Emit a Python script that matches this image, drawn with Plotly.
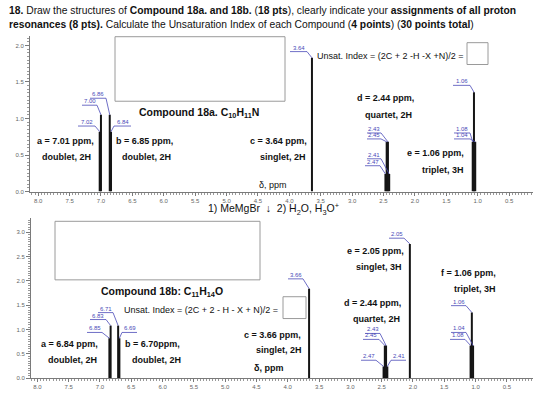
import plotly.graph_objects as go

W, H = 560, 394
FONT = "Liberation Sans, Arial, sans-serif"

# ---------------- data ----------------
top_ppm = [7.02, 7.00, 6.86, 6.84, 3.64, 2.47, 2.45, 2.43, 2.41, 1.08, 1.06, 1.04]
top_int = [0.82, 1.05, 1.05, 0.82, 1.83, 0.24, 0.68, 0.68, 0.24, 0.68, 1.36, 0.68]

bot_ppm = [6.85, 6.83, 6.71, 6.69, 3.66, 2.47, 2.45, 2.43, 2.41, 2.05, 1.08, 1.06, 1.04]
bot_int = [0.82, 1.08, 1.08, 0.82, 1.84, 0.24, 0.67, 0.67, 0.24, 2.76, 0.67, 1.35, 0.67]

x_tickvals = [8.0, 7.5, 7.0, 6.5, 6.0, 5.5, 5.0, 4.5, 4.0, 3.5, 3.0, 2.5, 2.0, 1.5, 1.0, 0.5]
top_yticks = [0.0, 0.5, 1.0, 1.5, 2.0]
bot_yticks = [0.0, 0.5, 1.0, 1.5, 2.0, 2.5, 3.0]

top_assign = ["a = 7.01 ppm,", "doublet, 2H", "b = 6.85 ppm,", "doublet, 2H",
              "c = 3.64 ppm,", "singlet, 2H", "d = 2.44 ppm,", "quartet, 2H",
              "e = 1.06 ppm,", "triplet, 3H"]
bot_assign = ["a = 6.84 ppm,", "doublet, 2H", "b = 6.70ppm,", "doublet, 2H",
              "c = 3.66 ppm,", "singlet, 2H", "d = 2.44 ppm,", "quartet, 2H",
              "e = 2.05 ppm,", "singlet, 3H", "f = 1.06 ppm,", "triplet, 3H"]

# ---------------- panel geometry (pixels) ----------------
TOP = dict(x0=30, x1=533, y0=36, y1=193, xr=(8.13, 0.12), yr=(0.0, 2.133))
BOT = dict(x0=31, x1=533, y0=220, y1=381, xr=(8.102, 0.083), yr=(0.0, 3.286))


def px2x(p, px):
    return p["xr"][0] + (px - p["x0"]) / (p["x1"] - p["x0"]) * (p["xr"][1] - p["xr"][0])


def py2y(p, py):
    return p["yr"][0] + (p["y1"] - py) / (p["y1"] - p["y0"]) * (p["yr"][1] - p["yr"][0])


def PX(x):
    return x / W


def PY(y):
    return 1 - y / H


fig = go.Figure()


def sticks(ppm, inten):
    xs, ys = [], []
    for p, h in zip(ppm, inten):
        xs += [p, p, None]
        ys += [0, h, None]
    return xs, ys


xs, ys = sticks(top_ppm, top_int)
fig.add_trace(go.Scatter(x=xs, y=ys, mode="lines", line=dict(color="#151515", width=2),
                         xaxis="x", yaxis="y", showlegend=False, hoverinfo="skip"))
xs, ys = sticks(bot_ppm, bot_int)
fig.add_trace(go.Scatter(x=xs, y=ys, mode="lines", line=dict(color="#151515", width=2),
                         xaxis="x2", yaxis="y2", showlegend=False, hoverinfo="skip"))

shapes = []
annots = []

LEADC = "#4a4ab8"

# peak-label leaders: (ppm, underline y px, far end x px, near end x px)
top_leaders = [
    (7.00, 106, 82, 97), (7.02, 127, 78, 95), (6.86, 99, 90, 106), (6.84, 127, 131, 114),
    (3.64, 52, 290, 307),
    (2.43, 134, 367, 381), (2.45, 140, 367, 381), (2.41, 160, 367, 381), (2.47, 167, 365, 380),
    (1.06, 86, 453, 470), (1.08, 134, 454, 470), (1.04, 140, 454, 470),
]
bot_leaders = [
    (6.71, 315, 98, 113), (6.83, 322, 90, 106), (6.85, 335, 87, 102), (6.69, 335, 137, 122),
    (3.66, 281, 288, 303), (2.05, 240, 389, 404),
    (2.43, 336, 365, 380), (2.45, 342, 363, 379), (2.47, 363, 361, 376), (2.41, 363, 406, 391),
    (1.06, 308, 451, 466), (1.04, 335, 451, 466), (1.08, 342, 450, 465),
]


def add_leaders(panel, leaders, ppm, inten, xref, yref):
    hmap = dict(zip(ppm, inten))
    for p, uy, xa, xb in leaders:
        h = hmap[p]
        xa_d, xb_d, uy_d = px2x(panel, xa), px2x(panel, xb), py2y(panel, uy)
        shapes.append(dict(type="path", xref=xref, yref=yref,
                           path=f"M {xa_d},{uy_d} L {xb_d},{uy_d} L {p},{h}",
                           line=dict(color=LEADC, width=0.8)))
        annots.append(dict(x=(xa_d + xb_d) / 2, y=uy_d, xref=xref, yref=yref,
                           text=f"{p:.2f}", showarrow=False, yanchor="bottom",
                           borderpad=0, font=dict(family=FONT, size=6, color=LEADC)))


add_leaders(TOP, top_leaders, top_ppm, top_int, "x", "y")
add_leaders(BOT, bot_leaders, bot_ppm, bot_int, "x2", "y2")


def txt(x, y, s, anchor="center", size=9, bold=True, color="#111"):
    annots.append(dict(x=PX(x), y=PY(y), xref="paper", yref="paper",
                       text=(f"<b>{s}</b>" if bold else s), showarrow=False,
                       xanchor=anchor, yanchor="middle", borderpad=0,
                       font=dict(family=FONT, size=size, color=color)))


# title
txt(8, 11, "<b>18.</b> Draw the structures of <b>Compound 18a. and 18b.</b> (<b>18 pts</b>), "
           "clearly indicate your <b>assignments of all proton</b>", "left", 10.3, False)
txt(8, 25, "<b>resonances (8 pts).</b> Calculate the Unsaturation Index of each Compound "
           "(<b>4 points</b>) (<b>30 points total</b>)", "left", 10.3, False)

# top panel text
txt(199, 114, "Compound 18a. C<sub>10</sub>H<sub>11</sub>N", "center", 10.5)
txt(465, 56, "Unsat. Index = (2C + 2 -H -X +N)/2 =", "right", 9, False)
top_pos = [(95, 142, "right"), (92, 158, "right"), (115, 142, "left"), (121, 158, "left"),
           (308, 142, "right"), (307, 158, "right"), (415, 99, "right"), (413, 116, "right"),
           (465, 154, "right"), (465, 171, "right")]
for (x, y, a), s in zip(top_pos, top_assign):
    txt(x, y, s, a, 9)
txt(258, 186, "δ, ppm", "left", 9, False)

# reaction arrow text
txt(273, 211, "1) MeMgBr  \u2193  2) H<sub>2</sub>O, H<sub>3</sub>O<sup>+</sup>", "center", 10.5, False)

# bottom panel text
txt(162, 294, "Compound 18b: C<sub>11</sub>H<sub>14</sub>O", "center", 10.5)
txt(123, 312, "Unsat. Index = (2C + 2 - H - X + N)/2 =", "left", 9, False)
bot_pos = [(99, 347, "right"), (98, 363, "right"), (124, 347, "left"), (131, 363, "left"),
           (302, 338, "right"), (303, 353, "right"), (402, 305, "right"), (401, 321, "right"),
           (405, 253, "right"), (403, 269, "right"), (497, 275, "right"), (497, 291, "right")]
for (x, y, a), s in zip(bot_pos, bot_assign):
    txt(x, y, s, a, 9)
txt(284, 371, "δ, ppm", "right", 9)

# boxes
BOXC = "#9a9a9a"
for (x0, y0, x1, y1) in [(115, 37, 285, 102), (467, 43, 488, 65),
                         (55, 223, 260, 282), (283, 299, 306, 321)]:
    shapes.append(dict(type="rect", xref="paper", yref="paper",
                       x0=PX(x0), x1=PX(x1), y0=PY(y1), y1=PY(y0),
                       line=dict(color=BOXC, width=1), fillcolor="white", layer="below"))

AXC = "#7a7a7a"
TICKF = dict(family=FONT, size=6, color="#666")


def xaxis(p, anchor):
    return dict(domain=[PX(p["x0"]), PX(p["x1"])], range=list(p["xr"]), anchor=anchor,
                tickmode="array", tickvals=x_tickvals, ticktext=[f"{v:.1f}" for v in x_tickvals],
                showline=True, linecolor=AXC, linewidth=1, ticks="outside", ticklen=3,
                tickcolor=AXC, tickfont=TICKF, showgrid=False, zeroline=False,
                minor=dict(dtick=0.05, tick0=0, ticks="outside", ticklen=2, tickcolor="#999"))


def yaxis(p, anchor, vals):
    return dict(domain=[PY(p["y1"]), PY(p["y0"])], range=list(p["yr"]), anchor=anchor,
                tickmode="array", tickvals=vals, ticktext=[f"{v:.1f}" for v in vals],
                showline=True, linecolor=AXC, linewidth=1, ticks="outside", ticklen=4,
                tickcolor=AXC, tickfont=TICKF, showgrid=False, zeroline=False,
                minor=dict(dtick=0.05, tick0=0, ticks="outside", ticklen=2, tickcolor="#999"))


fig.update_layout(
    width=W, height=H, margin=dict(l=0, r=0, t=0, b=0),
    paper_bgcolor="white", plot_bgcolor="white", showlegend=False,
    xaxis=xaxis(TOP, "y"), yaxis=yaxis(TOP, "x", top_yticks),
    xaxis2=xaxis(BOT, "y2"), yaxis2=yaxis(BOT, "x2", bot_yticks),
    shapes=shapes, annotations=annots,
)

fig.write_html("out.html")
